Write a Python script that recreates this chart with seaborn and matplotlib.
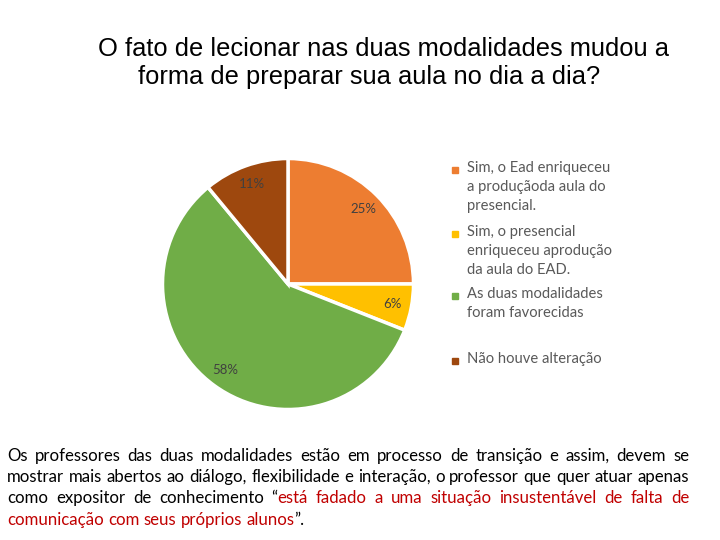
import matplotlib
matplotlib.use("Agg")
import matplotlib.pyplot as plt
from matplotlib.patches import Rectangle
import seaborn as sns

CATEGORIES = [
    "Sim, o Ead enriqueceu\na produçãoda aula do\npresencial.",
    "Sim, o presencial\nenriqueceu aprodução\nda aula do EAD.",
    "As duas modalidades\nforam favorecidas",
    "Não houve alteração",
]
SHARES = [25, 6, 58, 11]
COLORS = ["#ED7D31", "#FFC000", "#70AD47", "#9E480E"]

TITLE_LINES = [
    "O fato de lecionar nas duas modalidades mudou a",
    "forma de preparar sua aula no dia a dia?",
]

# red spans are marked with [ ]
PARAGRAPH = [
    "Os professores das duas modalidades estão em processo de transição e assim, devem se",
    "mostrar mais abertos ao diálogo, flexibilidade e interação, o professor que quer atuar apenas",
    "como expositor de conhecimento “[está fadado a uma situação insustentável de falta de",
    "comunicação com seus próprios alunos]”.",
]

W, H = 720, 540
RED = "#C00000"
BODY_FONT = ["Lato", "DejaVu Sans"]
LEGEND_FONT = ["Lato", "DejaVu Sans"]

sns.set_style("white")
plt.rcParams["font.family"] = ["Liberation Sans", "DejaVu Sans"]

fig = plt.figure(figsize=(W / 100, H / 100), dpi=100)


def fx(x):
    return x / W


def fy(y):
    return 1 - y / H


# pie: centre (288, 284), radius 128 px
r = 128
ax = fig.add_axes([fx(288 - r), fy(284 + r), 2 * r / W, 2 * r / H])
wedges, _, autotexts = ax.pie(
    SHARES,
    colors=COLORS,
    startangle=90,
    counterclock=False,
    autopct=lambda p: f"{p:.0f}%",
    pctdistance=0.85,
    wedgeprops=dict(edgecolor="white", linewidth=2.5),
    textprops=dict(color="#404040", fontsize=9.5, family=BODY_FONT),
)
ax.set_xlim(-1.02, 1.02)
ax.set_ylim(-1.02, 1.02)
ax.set_aspect("equal")
ax.axis("off")

# title
fig.text(fx(98), fy(49), TITLE_LINES[0], fontsize=18.4, va="center", ha="left", color="black")
fig.text(fx(138), fy(77), TITLE_LINES[1], fontsize=18.4, va="center", ha="left", color="black")

# legend, Excel style
legend_rows = [170, 234, 296, 361]
for label, col, yc in zip(CATEGORIES, COLORS, legend_rows):
    fig.add_artist(Rectangle((fx(452), fy(yc + 3)), 6 / W, 6 / H,
                             transform=fig.transFigure, color=col))
    fig.text(fx(467), fy(yc - 9), label, fontsize=10.6, va="top", ha="left",
             color="#595959", linespacing=1.45, family=LEGEND_FONT)

# justified paragraph
fig.canvas.draw()
renderer = fig.canvas.get_renderer()


def text_width(s, size):
    t = fig.text(0, 0, s, fontsize=size, family=BODY_FONT)
    w = t.get_window_extent(renderer).width
    t.remove()
    return w


left, right = 7, 689
# size the body so the widest line just fits the column
PARA_SIZE = 10 * (right - left - 4) / text_width(PARAGRAPH[1], 10)
space_w = text_width("a a", PARA_SIZE) - text_width("aa", PARA_SIZE)


def split_line(line, red):
    words = []
    for word in line.split(" "):
        pieces, buf = [], ""
        for ch in word:
            if ch in "[]":
                if buf:
                    pieces.append((buf, red))
                buf = ""
                red = ch == "["
            else:
                buf += ch
        if buf:
            pieces.append((buf, red))
        words.append(pieces)
    return words, red


baselines = [461, 482, 503, 525]
red = False
for i, (line, yb) in enumerate(zip(PARAGRAPH, baselines)):
    words, red = split_line(line, red)
    widths = [[text_width(p, PARA_SIZE) for p, _ in w] for w in words]
    total = sum(sum(w) for w in widths)
    last = i == len(PARAGRAPH) - 1
    gap = space_w if last else (right - left - total) / (len(words) - 1)
    x = left
    for pieces, pw in zip(words, widths):
        for (p, is_red), w in zip(pieces, pw):
            fig.text(fx(x), fy(yb), p, fontsize=PARA_SIZE, family=BODY_FONT,
                     color=RED if is_red else "black", va="baseline", ha="left")
            x += w
        x += gap

fig.savefig("out.png", dpi=100, facecolor="white")
